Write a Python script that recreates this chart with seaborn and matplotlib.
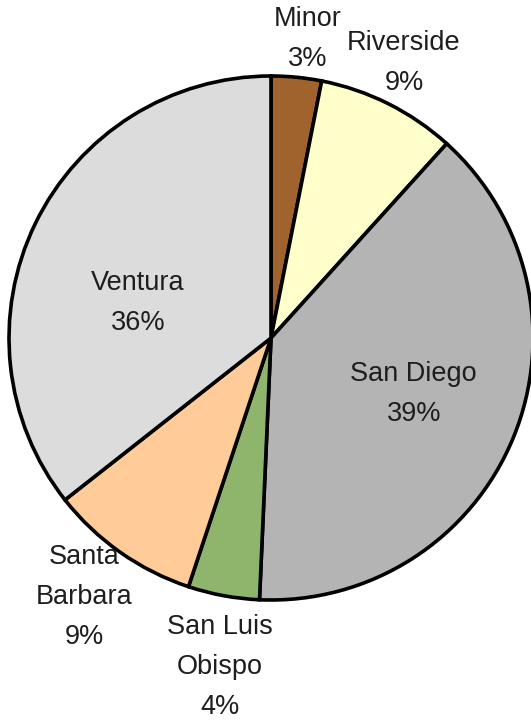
import numpy as np
import matplotlib
matplotlib.use("Agg")
import matplotlib.pyplot as plt
import seaborn as sns

# slices, clockwise from 12 o'clock
regions = ["Minor", "Riverside", "San Diego", "San Luis\nObispo", "Santa\nBarbara", "Ventura"]
shares = [3.1, 8.6, 39.0, 4.4, 9.3, 35.6]
shown_pct = [3, 9, 39, 4, 9, 36]

colors = ["#A0632D", "#FFFFCC", "#B4B4B4", "#8FB56C", "#FFCC99", "#DCDCDC"]
label_radius = [1.15, 1.165, 0.585, 1.27, 1.22, 0.525]
angle_shift = [-1.4, 0.8, 1.0, 1.6, -0.7, 11.3]

sns.set_theme(style="white")
plt.rcParams["font.family"] = ["Liberation Sans", "DejaVu Sans"]

fig = plt.figure(figsize=(5.31, 7.23), dpi=100)
ax = fig.add_axes([9 / 531, (385 - 262) / 723, 524 / 531, 524 / 723])

wedges, _ = ax.pie(
    shares,
    colors=colors,
    startangle=90,
    counterclock=False,
    wedgeprops=dict(edgecolor="black", linewidth=2.6),
)

# labels sit on each slice's mid-angle, nudged to where the original has them
for w, name, pct, r, shift in zip(wedges, regions, shown_pct, label_radius, angle_shift):
    mid = np.deg2rad((w.theta1 + w.theta2) / 2 + shift)
    ax.text(r * np.cos(mid), r * np.sin(mid), f"{name}\n{pct}%",
            ha="center", va="center", fontsize=19.5, color="#1E1E1E",
            linespacing=1.7)

ax.set_xlim(-1, 1)
ax.set_ylim(-1, 1)
ax.axis("off")

fig.savefig("out.png", dpi=100)
